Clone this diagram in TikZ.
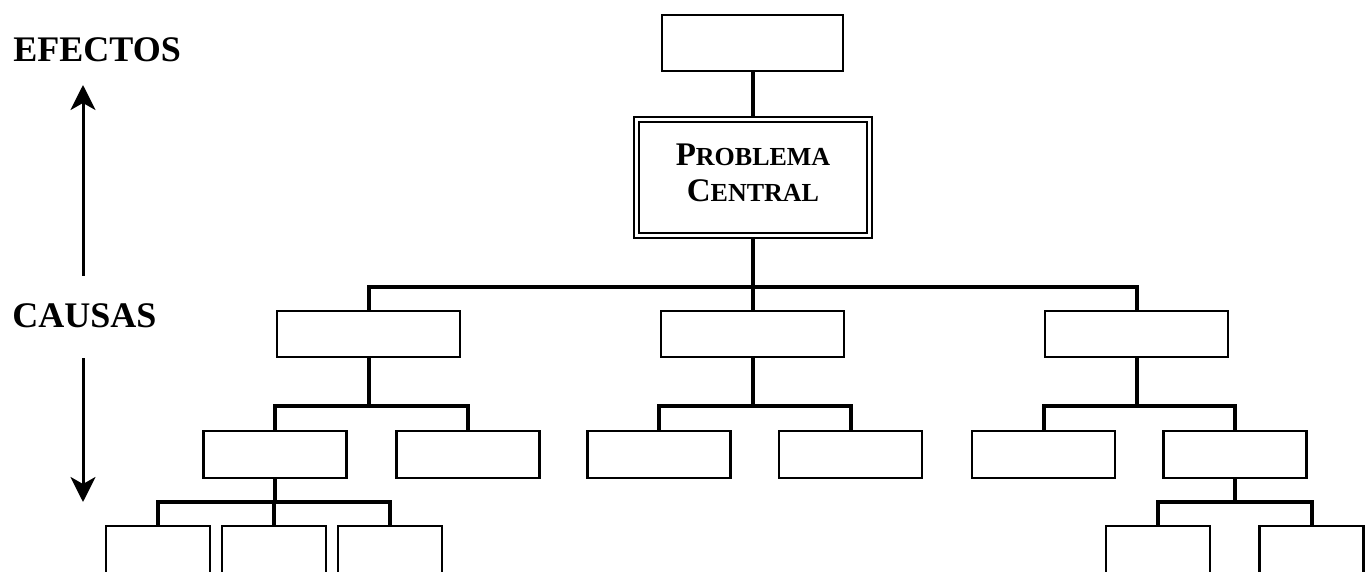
\documentclass[tikz,border=0pt]{standalone}
\usepackage{fontspec}
\setmainfont{Liberation Serif}
\usetikzlibrary{arrows.meta,positioning}
\newcommand{\smcap}[2]{#1{\fontsize{13}{18}\selectfont #2}}

\begin{document}
\begin{tikzpicture}[x=0.5pt,y=-0.5pt,
    box/.style={draw,line width=1.25pt,inner sep=0pt},
    link/.style={line width=2pt},
    flow/.style={line width=1.5pt,-{Stealth[length=12.5pt,width=12.5pt,inset=3.5pt]}},
    side/.style={anchor=base west,inner sep=0pt,font=\fontsize{18}{20}\selectfont\bfseries}]
    % Frame
    \useasboundingbox (0,0) rectangle (1370,572);
    \clip (0,0) rectangle (1370,572);

    % Side labels and arrows
    \node[side] (efe) at (13,62) {EFECTOS};
    \node[side] (cau) at (12,327) {CAUSAS};
    \coordinate (upA) at (83,276);
    \coordinate (upB) at (83,85);
    \coordinate (dnA) at (83,358);
    \coordinate (dnB) at (83,502);
    \draw[flow] (upA) -- (upB);
    \draw[flow] (dnA) -- (dnB);

    % Effect and central problem
    \node[box,minimum width=90.3pt,minimum height=27.8pt] (top) at (752.5,43) {};
    \node[draw,double,line width=0.75pt,double distance=1.75pt,
          minimum width=116.5pt,minimum height=58pt] (prob) at (753,177.5) {};
    \node[align=center,inner sep=0pt,font=\fontsize{16.5}{18}\selectfont\bfseries] (probtxt)
        at (753,172.5) {\smcap{P}{ROBLEMA}\\\smcap{C}{ENTRAL}};

    % Causes
    \foreach \n/\x in {c1/368.5,c2/752.5,c3/1136.5}
        \node[box,minimum width=91.3pt,minimum height=23pt] (\n) at (\x,334) {};
    \foreach \n/\x in {b1/275,b2/468,b3/659,b4/850.5,b5/1043.5,b6/1235}
        \node[box,minimum width=71.3pt,minimum height=23.3pt] (\n) at (\x,454.5) {};
    \foreach \n/\x in {d1/158,d2/274,d3/390,d4/1158,d5/1311.5}
        \node[box,minimum width=51.8pt,minimum height=50pt] (\n) at (\x,576) {};

    % Connectors
    \coordinate (j0) at (0,287);
    \coordinate (j1) at (0,406);
    \coordinate (j2) at (0,502);
    \draw[link,shorten >=1.25pt] (top.south) -- (top.south |- prob.north);
    \foreach \c in {c1,c2,c3}
        \draw[link,shorten <=1.25pt] (prob.south) -- (prob.south |- j0) -| (\c.north);
    \foreach \p/\j/\c in {c1/j1/b1,c1/j1/b2,c2/j1/b3,c2/j1/b4,c3/j1/b5,c3/j1/b6,
                          b1/j2/d1,b1/j2/d2,b1/j2/d3,b6/j2/d4,b6/j2/d5}
        \draw[link] (\p.south) -- (\p.south |- \j) -| (\c.north);

\end{tikzpicture}
\end{document}
